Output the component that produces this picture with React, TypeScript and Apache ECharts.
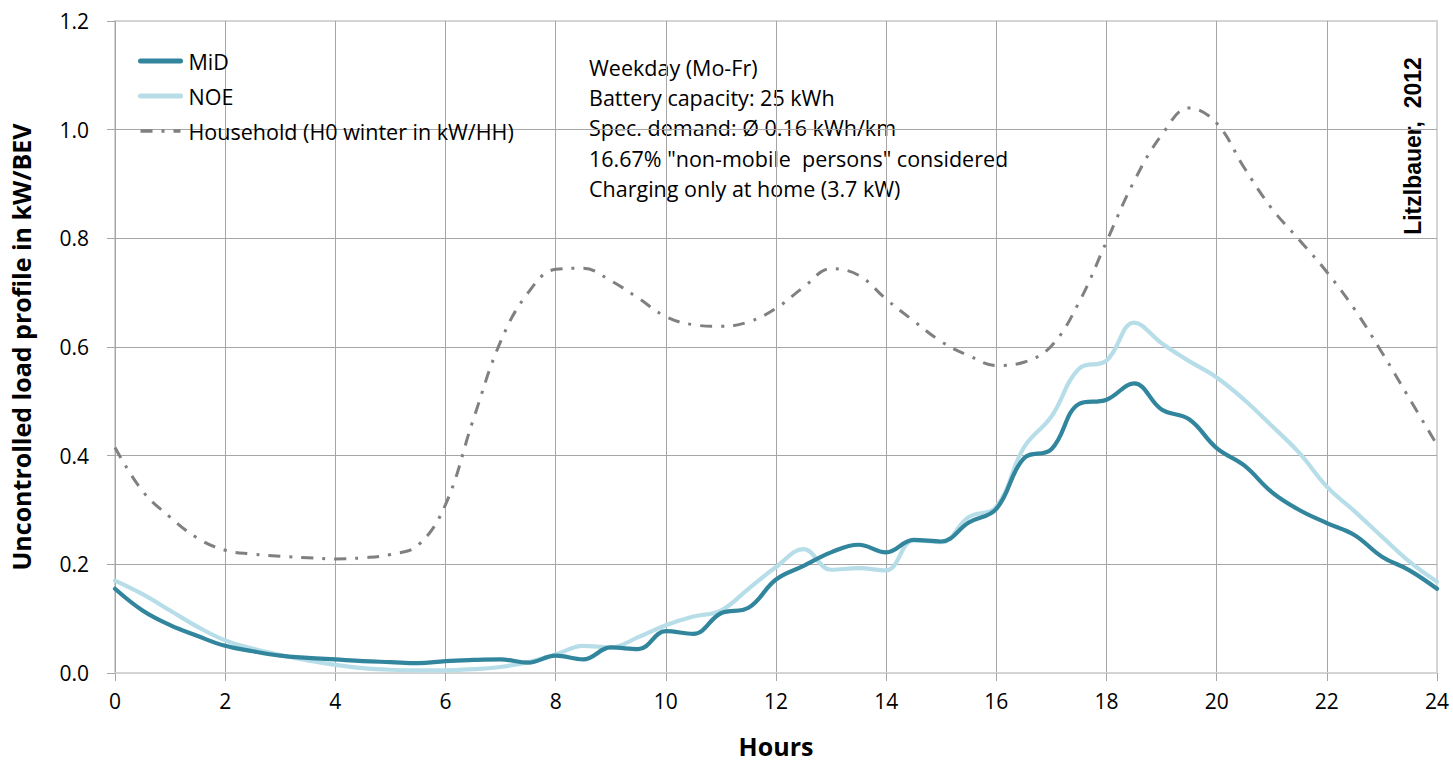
import React, { useEffect, useRef } from "react";
import * as echarts from "echarts";

const hours = [0, 0.5, 1, 1.5, 2, 2.5, 3, 3.5, 4, 4.5, 5, 5.5, 6, 6.5, 7, 7.5, 8, 8.5, 9, 9.5, 10, 10.5, 11, 11.5, 12, 12.5, 13, 13.5, 14, 14.5, 15, 15.5, 16, 16.5, 17, 17.5, 18, 18.5, 19, 19.5, 20, 20.5, 21, 21.5, 22, 22.5, 23, 23.5, 24];

const midValues = [0.155, 0.115, 0.088, 0.068, 0.05, 0.04, 0.032, 0.028, 0.025, 0.022, 0.02, 0.018, 0.022, 0.024, 0.025, 0.019, 0.032, 0.025, 0.047, 0.044, 0.077, 0.072, 0.11, 0.12, 0.172, 0.197, 0.222, 0.236, 0.222, 0.245, 0.242, 0.277, 0.302, 0.395, 0.412, 0.495, 0.503, 0.533, 0.485, 0.467, 0.414, 0.382, 0.333, 0.3, 0.276, 0.254, 0.214, 0.189, 0.155];

const noeValues = [0.17, 0.145, 0.115, 0.085, 0.06, 0.045, 0.033, 0.023, 0.015, 0.009, 0.006, 0.005, 0.005, 0.007, 0.011, 0.02, 0.034, 0.05, 0.047, 0.066, 0.088, 0.104, 0.115, 0.155, 0.195, 0.228, 0.19, 0.193, 0.189, 0.244, 0.241, 0.287, 0.306, 0.415, 0.472, 0.56, 0.575, 0.645, 0.607, 0.574, 0.544, 0.503, 0.455, 0.405, 0.343, 0.298, 0.251, 0.205, 0.168];

const householdValues = [0.415, 0.335, 0.287, 0.248, 0.226, 0.219, 0.215, 0.212, 0.21, 0.212, 0.218, 0.235, 0.31, 0.465, 0.61, 0.7, 0.743, 0.745, 0.722, 0.69, 0.656, 0.641, 0.638, 0.646, 0.671, 0.71, 0.744, 0.732, 0.688, 0.648, 0.61, 0.584, 0.566, 0.572, 0.602, 0.682, 0.794, 0.905, 0.99, 1.04, 1.012, 0.93, 0.855, 0.797, 0.738, 0.67, 0.59, 0.505, 0.42];

const seriesNames = ["MiD", "NOE", "Household (H0 winter in kW/HH)"];

const annotationLines = [
  "Weekday (Mo-Fr)",
  "Battery capacity: 25 kWh",
  "Spec. demand: Ø 0.16 kWh/km",
  "16.67% \"non-mobile  persons\" considered",
  "Charging only at home (3.7 kW)",
];

const sourceText = "Litzlbauer,  2012";

const FONT = "'Open Sans', 'Noto Sans', sans-serif";

export default function App() {
  const ref = useRef<HTMLDivElement>(null);

  useEffect(() => {
    if (!ref.current) return;
    const chart = echarts.init(ref.current, undefined, { renderer: "svg" });
    const pair = (vals: number[]) => hours.map((h, i) => [h, vals[i]]);

    chart.setOption({
      animation: false,
      backgroundColor: "#ffffff",
      grid: {
        left: 112,
        right: 16,
        top: 21,
        bottom: 91,
        show: true,
        borderColor: "#D4D4D4",
        borderWidth: 2,
      },
      legend: {
        orient: "vertical",
        left: 133,
        top: 45,
        itemWidth: 40,
        itemHeight: 20,
        itemGap: 13,
        data: [
          { name: seriesNames[0], lineStyle: { width: 5, cap: "round" } },
          { name: seriesNames[1], lineStyle: { width: 5, cap: "round" } },
          { name: seriesNames[2], lineStyle: { width: 3.5 } },
        ],
        itemStyle: { opacity: 0 },
        textStyle: {
          fontFamily: FONT,
          fontSize: 21.5,
          color: "#000",
          padding: [0, 0, 0, 3],
        },
      },
      xAxis: {
        type: "value",
        min: 0,
        max: 24,
        interval: 2,
        name: "Hours",
        nameLocation: "middle",
        nameGap: 60,
        nameTextStyle: {
          fontFamily: FONT,
          fontSize: 25,
          fontWeight: "bold",
          color: "#000",
        },
        axisLine: { show: true, lineStyle: { color: "#D4D4D4", width: 2 } },
        axisTick: { show: true, length: 8, lineStyle: { color: "#A6A6A6" } },
        axisLabel: {
          margin: 17,
          fontFamily: FONT,
          fontSize: 21,
          color: "#000",
        },
        splitLine: {
          show: true,
          showMaxLine: false,
          lineStyle: { color: "#A6A6A6", width: 1 },
        },
      },
      yAxis: {
        type: "value",
        min: 0,
        max: 1.2,
        interval: 0.2,
        name: "Uncontrolled load profile in kW/BEV",
        nameLocation: "middle",
        nameGap: 82,
        nameTextStyle: {
          fontFamily: FONT,
          fontSize: 25,
          fontWeight: "bold",
          color: "#000",
        },
        axisLine: { show: false },
        axisTick: { show: true, length: 8, lineStyle: { color: "#A6A6A6" } },
        axisLabel: {
          margin: 26,
          fontFamily: FONT,
          fontSize: 21,
          color: "#000",
          formatter: (v: number) => v.toFixed(1),
        },
        splitLine: {
          show: true,
          showMinLine: false,
          showMaxLine: false,
          lineStyle: { color: "#A6A6A6", width: 1 },
        },
      },
      series: [
        {
          name: seriesNames[0],
          type: "line",
          data: pair(midValues),
          smooth: 0.4,
          symbol: "none",
          z: 4,
          lineStyle: { color: "#31859C", width: 4.2, cap: "round" },
          itemStyle: { color: "#31859C" },
        },
        {
          name: seriesNames[1],
          type: "line",
          data: pair(noeValues),
          smooth: 0.4,
          symbol: "none",
          z: 3,
          lineStyle: { color: "#B7DEE8", width: 4.2, cap: "round" },
          itemStyle: { color: "#B7DEE8" },
        },
        {
          name: seriesNames[2],
          type: "line",
          data: pair(householdValues),
          smooth: 0.4,
          symbol: "none",
          z: 2,
          lineStyle: { color: "#808080", width: 3, type: [12, 9, 3, 9] },
          itemStyle: { color: "#808080" },
        },
      ],
      graphic: [
        {
          type: "text",
          left: 589,
          top: 52,
          style: {
            text: annotationLines.join("\n"),
            fontFamily: FONT,
            fontSize: 21.5,
            lineHeight: 30.3,
            fill: "#000",
          },
        },
        {
          type: "text",
          x: 1413,
          y: 146,
          rotation: Math.PI / 2,
          style: {
            text: sourceText,
            fontFamily: "'Liberation Sans', Arial, sans-serif",
            fontSize: 23,
            fontWeight: "bold",
            fill: "#000",
            align: "center",
            verticalAlign: "middle",
          },
        },
      ],
    });

    return () => chart.dispose();
  }, []);

  return (
    <div
      ref={ref}
      style={{ position: "fixed", left: 0, top: 0, width: 1453, height: 764 }}
    />
  );
}
